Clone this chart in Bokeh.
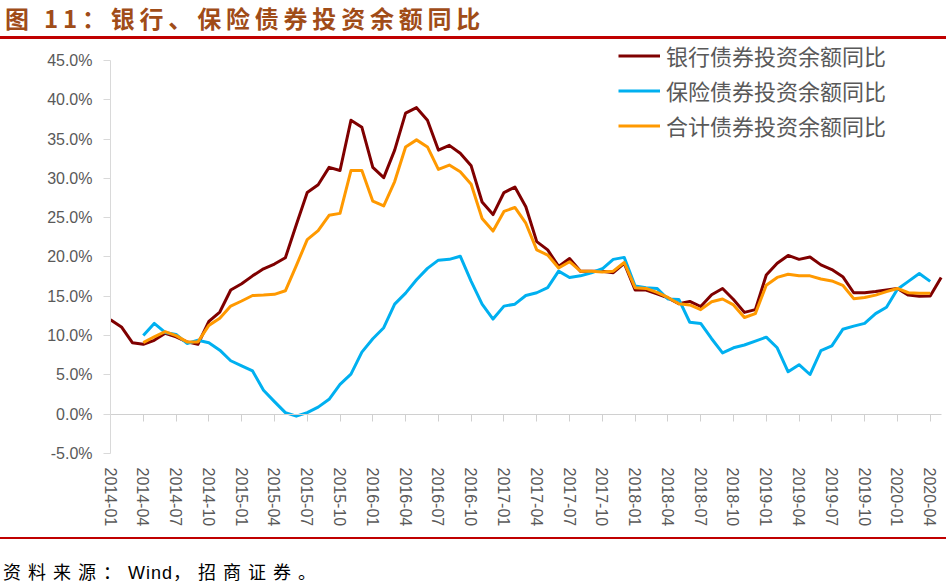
import pandas as pd
from bokeh.plotting import figure
from bokeh.models import (Range1d, FixedTicker, PrintfTickFormatter, LinearAxis,
                          Legend, LegendItem, Div)
from bokeh.layouts import column
from bokeh.embed import file_html
from bokeh.resources import INLINE

# ---- data (year-on-year growth, %) ----
months = pd.date_range("2014-01", periods=77, freq="MS").strftime("%Y-%m").tolist()

bank = [12.0, 11.1, 9.1, 8.9, 9.4, 10.3, 9.85, 9.2, 8.9, 11.8, 13.0, 15.8, 16.6, 17.6, 18.5, 19.1, 19.9,
        24.1, 28.2, 29.2, 31.4, 31.0, 37.4, 36.5, 31.4, 30.1, 33.6, 38.3, 39.0,
        37.4, 33.6, 34.2, 33.2, 31.6, 27.0, 25.4, 28.2, 28.9, 26.4, 21.95, 20.9, 18.8, 19.8, 18.2, 18.2,
        18.2, 18.0, 19.2,
        15.8, 15.8, 15.3, 14.8, 14.05, 14.35, 13.7, 15.2, 16.0, 14.6, 12.95, 13.3, 17.7, 19.2, 20.2, 19.7,
        20.0, 19.0, 18.4, 17.5, 15.45, 15.45, 15.6, 15.8, 16.0, 15.15, 15.0, 15.05, 17.4]
bank_start = "2014-01"

insurance = [10.0, 11.55, 10.4, 10.15, 9.0, 9.4, 9.1, 8.15, 6.8, 6.15, 5.5, 3.05, 1.6, 0.2, -0.25, 0.2,
             0.9, 1.9, 3.8, 5.1, 7.9, 9.6, 11.0, 14.0, 15.4, 17.1,
             18.55, 19.6, 19.7, 20.1, 16.9, 14.0, 12.1, 13.75, 14.0, 15.1, 15.45, 16.1, 18.2, 17.4, 17.6,
             18.0, 18.5, 19.7, 19.95, 16.3, 16.1, 16.0, 14.65, 14.6, 11.7, 11.55,
             9.6, 7.8, 8.45, 8.8, 9.3, 9.8, 8.45, 5.4, 6.3, 5.05, 8.1, 8.7, 10.8, 11.2, 11.55, 12.8, 13.6,
             15.9, 16.9, 17.9, 16.9]
insurance_start = "2014-04"

total = [9.1, 9.85, 10.5, 10.0, 9.2, 9.2, 11.3, 12.2, 13.75, 14.4, 15.1, 15.15, 15.25, 15.7,
         18.9, 22.2, 23.35, 25.3, 25.55, 31.0, 31.0, 27.1, 26.5, 29.6, 34.0, 34.9,
         34.0, 31.15, 31.7, 30.85, 29.25, 24.9, 23.3, 25.8, 26.3, 24.3, 20.9, 20.25, 18.6, 19.4, 18.2,
         18.2, 18.1, 18.2, 19.3,
         16.1, 16.0, 15.5, 14.85, 14.05, 13.9, 13.3, 14.3, 14.65, 13.9, 12.3, 12.8, 16.4, 17.4, 17.8,
         17.6, 17.6, 17.2, 16.95, 16.4, 14.7, 14.85, 15.15, 15.6, 16.0, 15.45, 15.4, 15.4]
total_start = "2014-04"

series_names = ["银行债券投资余额同比", "保险债券投资余额同比", "合计债券投资余额同比"]
series_colors = ["#7F0000", "#00B0F0", "#FF9900"]

y_ticks = [-5, 0, 5, 10, 15, 20, 25, 30, 35, 40, 45]
x_tick_idx = list(range(0, len(months) - 1, 3))

# ---- figure ----
p = figure(width=946, height=498, x_range=Range1d(0, 76.49), y_range=Range1d(-5, 47.67),
           output_backend="svg", toolbar_location=None,
           min_border_left=110, min_border_right=0, min_border_top=0, min_border_bottom=84)
p.outline_line_color = None
p.grid.visible = False
p.background_fill_color = "white"
p.border_fill_color = "white"

label_font = "Liberation Sans"
label_color = "#595959"

yax = p.yaxis[0]
yax.ticker = FixedTicker(ticks=y_ticks)
yax.bounds = (y_ticks[0], y_ticks[-1])
yax.formatter = PrintfTickFormatter(format="%.1f%%")
yax.axis_line_color = "#D9D9D9"
yax.major_tick_line_color = "#D9D9D9"
yax.major_tick_out = 7
yax.major_tick_in = 0
yax.minor_tick_out = 0
yax.minor_tick_in = 0
yax.major_label_standoff = 11
yax.major_label_text_font = label_font
yax.major_label_text_font_size = "16px"
yax.major_label_text_color = label_color

xax = p.xaxis[0]
xax.ticker = FixedTicker(ticks=x_tick_idx)
xax.major_label_overrides = {i: months[i] for i in x_tick_idx}
xax.major_label_orientation = "vertical"
xax.axis_line_color = None
xax.major_tick_line_color = None
xax.major_tick_out = 0
xax.major_tick_in = 0
xax.minor_tick_out = 0
xax.minor_tick_in = 0
xax.major_label_standoff = 14
xax.major_label_text_font = label_font
xax.major_label_text_font_size = "16px"
xax.major_label_text_color = label_color

# zero line with category ticks
zero_axis = LinearAxis(fixed_location=0, ticker=FixedTicker(ticks=x_tick_idx),
                       bounds=(0, len(months) - 1),
                       axis_line_color="#D0D0D0", major_tick_line_color="#D0D0D0",
                       major_tick_in=0, major_tick_out=7, minor_tick_in=0, minor_tick_out=0,
                       major_label_overrides={i: "" for i in x_tick_idx}, major_label_standoff=0)
p.add_layout(zero_axis, "below")

idx = {m: i for i, m in enumerate(months)}
renderers = []
for vals, start, color in [(bank, bank_start, series_colors[0]),
                           (insurance, insurance_start, series_colors[1]),
                           (total, total_start, series_colors[2])]:
    s = idx[start]
    xs = list(range(s, s + len(vals)))
    r = p.line(xs, vals, line_color=color, line_width=3, line_join="round")
    renderers.append(r)

legend = Legend(items=[LegendItem(label=n, renderers=[r]) for n, r in zip(series_names, renderers)],
                location=(508, 312), orientation="vertical",
                label_text_font="Noto Sans CJK SC", label_text_font_size="22px",
                label_text_color=label_color, glyph_width=42, glyph_height=31, label_height=31,
                spacing=3, padding=0, margin=0, label_standoff=6,
                border_line_color=None, background_fill_alpha=0)
p.add_layout(legend)

title_div = Div(
    text=('<div style="box-sizing:border-box;width:946px;height:39px;border-bottom:3px solid #C00000;'
          'padding-top:8px;padding-left:5px;'
          'font-family:\'Noto Sans CJK SC\';font-weight:bold;font-size:24px;line-height:20px;'
          'letter-spacing:4.8px;color:#A04C18;white-space:nowrap;">图 11：银行、保险债券投资余额同比</div>'),
    width=946, height=39, margin=0)
source_div = Div(
    text=('<div style="box-sizing:border-box;width:946px;height:50px;border-top:2px solid #C00000;'
          'padding-top:23px;padding-left:3px;font-family:\'Noto Sans CJK SC\';font-size:18px;'
          'line-height:18px;color:#000000;white-space:nowrap;">'
          '<span style="letter-spacing:7px">资料来源：</span>'
          '<span style="letter-spacing:1px;font-family:\'Liberation Sans\'">Wind</span>'
          '<span style="letter-spacing:7px">，招商证券。</span></div>'),
    width=946, height=50, margin=0)

layout = column(title_div, p, source_div, spacing=0)
open("out.html", "w").write(file_html(layout, INLINE))
